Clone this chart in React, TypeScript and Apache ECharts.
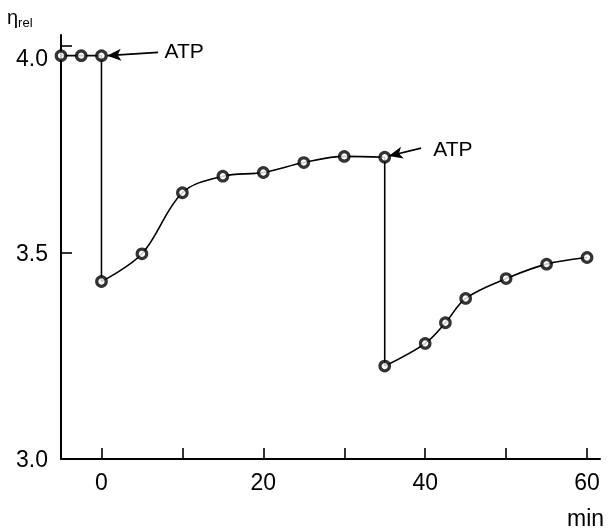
import React, { useEffect, useRef } from "react";
import * as echarts from "echarts";

// Data (minutes, relative viscosity)
const baseX = [-5, -2.5, 0];
const baseY = [3.977, 3.977, 3.977];
const phase1X = [0, 5, 10, 15, 20, 25, 30, 35];
const phase1Y = [3.43, 3.497, 3.645, 3.685, 3.694, 3.718, 3.733, 3.731];
const phase2X = [35, 40, 42.5, 45, 50, 55, 60];
const phase2Y = [3.225, 3.28, 3.33, 3.389, 3.437, 3.472, 3.488];
const xTicks = [0, 10, 20, 30, 40, 50, 60];
const xLabels = [0, 20, 40, 60];
const yTicks = [3.5, 4.0];
const annotations = [
  { text: "ATP", from: [7.0, 3.985], to: [0.7, 3.977], label: [7.8, 3.99] },
  { text: "ATP", from: [39.5, 3.753], to: [35.5, 3.734], label: [41.0, 3.753] },
];

const zip = (xs: number[], ys: number[]) => xs.map((x, i) => [x, ys[i]]);

export default function App() {
  const ref = useRef<HTMLDivElement>(null);
  useEffect(() => {
    if (!ref.current) return;
    const chart = echarts.init(ref.current, undefined, { renderer: "svg" });
    const font = "Liberation Sans, Arial, sans-serif";
    const lineStyle = { color: "#000", width: 1.6 };
    const xMin = -5, xMax = 61.6, yMin = 3.0, yMax = 4.027;
    const gridW = 609 - 61 - 9, gridH = 531 - 35 - 72;
    const tickLen = 11;
    const dx = (tickLen * (xMax - xMin)) / gridW;
    const dy = (tickLen * (yMax - yMin)) / gridH;
    const seg1 = [...zip(baseX, baseY), [phase1X[0], phase1Y[0]]];
    const seg2 = zip(phase1X, phase1Y);
    const seg3 = [
      [phase1X[phase1X.length - 1], phase1Y[phase1Y.length - 1]],
      [phase2X[0], phase2Y[0]],
    ];
    const seg4 = zip(phase2X, phase2Y);
    const allPts = [...zip(baseX, baseY), ...seg2, ...seg4];
    const tickLines = [
      ...xTicks.map((t) => [{ coord: [t, yMin] }, { coord: [t, yMin + dy] }]),
      ...yTicks.map((v) => [{ coord: [xMin, v] }, { coord: [xMin + dx, v] }]),
    ];
    chart.setOption({
      animation: false,
      grid: { left: 61, right: 9, top: 35, bottom: 72 },
      xAxis: {
        type: "value",
        min: xMin,
        max: xMax,
        axisLine: { show: true, onZero: false, lineStyle: { color: "#000", width: 2 } },
        axisTick: { show: false },
        axisLabel: {
          customValues: xLabels,
          color: "#000",
          fontFamily: font,
          fontSize: 23,
          margin: 11,
        },
        splitLine: { show: false },
      },
      yAxis: {
        type: "value",
        min: yMin,
        max: yMax,
        interval: 0.5,
        axisLine: { show: true, onZero: false, lineStyle: { color: "#000", width: 2 } },
        axisTick: { show: false },
        axisLabel: {
          color: "#000",
          fontFamily: font,
          fontSize: 23,
          margin: 13,
          formatter: (v: number) => (v >= 3.99 ? "{low|" + v.toFixed(1) + "}" : v.toFixed(1)),
          rich: {
            low: { fontFamily: font, fontSize: 23, color: "#000", padding: [24, 0, 0, 0] },
          },
        },
        splitLine: { show: false },
      },
      graphic: [
        {
          type: "text",
          left: 7,
          top: 7,
          style: {
            text: "{a|η}{b|rel}",
            rich: {
              a: { fontFamily: font, fontSize: 20, fill: "#000" },
              b: { fontFamily: font, fontSize: 13, fill: "#000", padding: [10, 0, 0, 0] },
            },
          },
        },
        {
          type: "text",
          x: 567,
          y: 518,
          style: {
            text: "min",
            fontFamily: font,
            fontSize: 23,
            fill: "#000",
            verticalAlign: "middle",
          },
        },
      ],
      series: [
        {
          type: "line",
          data: seg1,
          showSymbol: false,
          lineStyle,
          silent: true,
          markLine: {
            silent: true,
            symbol: ["none", "none"],
            label: { show: false },
            lineStyle: { color: "#000", width: 1.6, type: "solid" },
            data: tickLines,
          },
        },
        { type: "line", data: seg2, smooth: 0.35, showSymbol: false, lineStyle, silent: true },
        { type: "line", data: seg3, showSymbol: false, lineStyle, silent: true },
        { type: "line", data: seg4, smooth: 0.35, showSymbol: false, lineStyle, silent: true },
        {
          type: "scatter",
          data: allPts,
          symbol: "circle",
          symbolSize: 9.5,
          z: 5,
          itemStyle: { color: "#fff", borderColor: "#000", borderWidth: 3.2 },
          markLine: {
            silent: true,
            symbol: ["none", "arrow"],
            symbolSize: [9, 14],
            label: { show: false },
            lineStyle: { color: "#000", width: 1.6, type: "solid" },
            data: annotations.map((a) => [{ coord: a.from }, { coord: a.to }]),
          },
          markPoint: {
            silent: true,
            symbol: "circle",
            symbolSize: 0,
            label: {
              show: true,
              position: "right",
              distance: 0,
              color: "#000",
              fontFamily: font,
              fontSize: 21,
              formatter: (p: any) => p.name,
            },
            data: annotations.map((a) => ({ name: a.text, coord: a.label })),
          },
        },
      ],
    });
    return () => chart.dispose();
  }, []);
  return (
    <div
      ref={ref}
      style={{ position: "fixed", left: 0, top: 0, width: 609, height: 531 }}
    />
  );
}
